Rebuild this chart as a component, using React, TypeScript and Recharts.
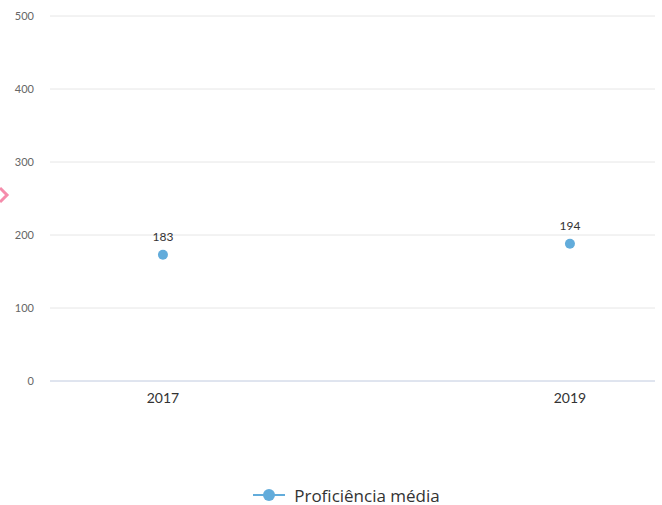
import React from "react";
import {
  CartesianGrid,
  LabelList,
  Legend,
  Line,
  LineChart,
  ReferenceLine,
  XAxis,
  YAxis,
} from "recharts";

// values as plotted in the picture, and the labels shown above each point
const years = [2017, 2019];
const proficiencia = [173, 188];
const pointLabels = ["183", "194"];
const yTicks = [0, 100, 200, 300, 400, 500];
const xTicks = [2017, 2019];

const data = years.map((year, i) => ({
  year,
  value: proficiencia[i],
  label: pointLabels[i],
}));

const BLUE = "#62acdb";
const FONT = "Lato, 'Open Sans', sans-serif";

function LegendContent() {
  return (
    <div
      style={{
        display: "flex",
        justifyContent: "center",
        alignItems: "center",
        fontFamily: "'Open Sans', sans-serif",
        fontSize: 17,
        color: "#333",
        height: 20,
        paddingLeft: 38,
      }}
    >
      <svg width={32} height={16} style={{ marginRight: 9 }}>
        <line x1={0} y1={8} x2={32} y2={8} stroke={BLUE} strokeWidth={2} />
        <circle cx={16} cy={8} r={6} fill={BLUE} />
      </svg>
      <span>Proficiência média</span>
    </div>
  );
}

export default function App() {
  return (
    <div style={{ position: "absolute", left: 0, top: 0, width: 662, height: 505, background: "#fff" }}>
      <LineChart
        width={662}
        height={505}
        data={data}
        margin={{ top: 16, right: 7, left: 0, bottom: 0 }}
      >
        <CartesianGrid vertical={false} stroke="#e6e6e6" />
        <XAxis
          dataKey="year"
          type="number"
          domain={[2016.445, 2019.418]}
          ticks={xTicks}
          axisLine={false}
          tickLine={false}
          height={104}
          tickMargin={6}
          tick={{ fontSize: 14, fill: "#333", fontFamily: FONT }}
        />
        <YAxis
          domain={[0, 500]}
          ticks={yTicks}
          width={50}
          axisLine={false}
          tickLine={false}
          tick={{ fontSize: 11, fill: "#666", fontFamily: FONT, dx: -8 }}
        />
        <ReferenceLine y={0} stroke="#ccd6eb" strokeWidth={1} />
        <Legend verticalAlign="bottom" height={20} content={() => <LegendContent />} />
        <Line
          dataKey="value"
          stroke="none"
          isAnimationActive={false}
          dot={{ r: 5, fill: BLUE, stroke: "none" }}
          activeDot={false}
        >
          <LabelList
            dataKey="label"
            position="top"
            offset={14}
            style={{ fontSize: 12, fill: "#333", fontFamily: FONT, fontWeight: 400 }}
          />
        </Line>
      </LineChart>
      <svg width={12} height={20} style={{ position: "absolute", left: 0, top: 186 }}>
        <polyline points="0,2 7,9 0,16" fill="none" stroke="#f58cab" strokeWidth={3} />
      </svg>
    </div>
  );
}
